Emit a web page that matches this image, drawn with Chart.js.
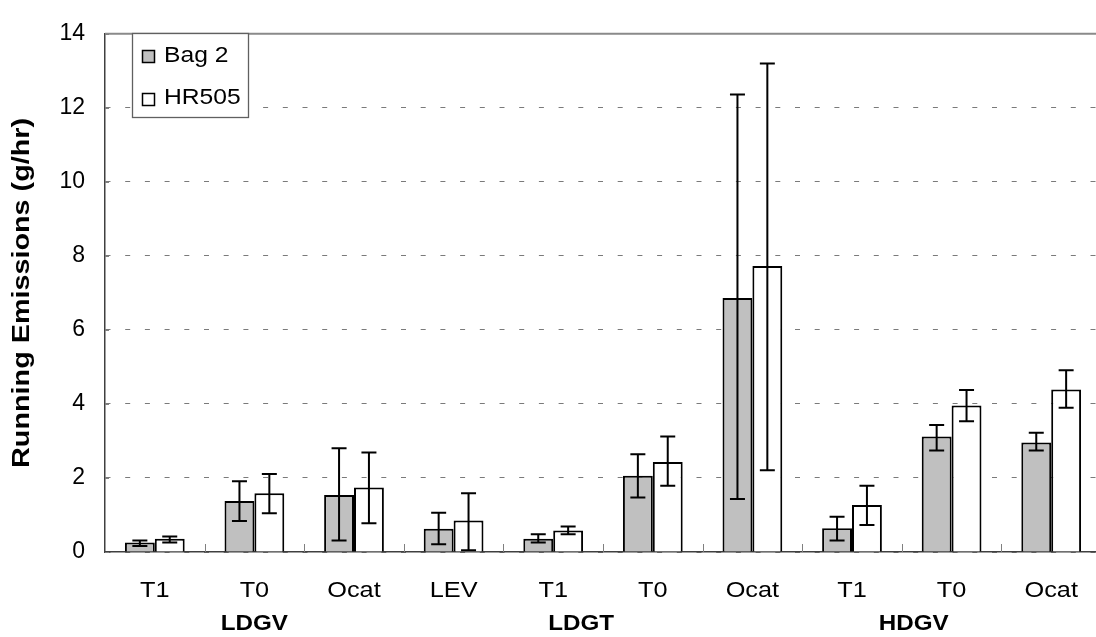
<!DOCTYPE html>
<html>
<head>
<meta charset="utf-8">
<script src="https://cdn.jsdelivr.net/npm/chart.js@4/dist/chart.umd.min.js"></script>
<style>
  html, body { margin: 0; padding: 0; background: #fff; overflow: hidden; }
  #wrap { width: 1101px; height: 637px; }
</style>
</head>
<body>
<div id="wrap"><canvas id="chart" width="1101" height="637"></canvas></div>
<script>
// values (g/hr)
const categories = ["T1", "T0", "Ocat", "LEV", "T1", "T0", "Ocat", "T1", "T0", "Ocat"];
const bag2 = [0.26, 1.38, 1.54, 0.63, 0.36, 2.06, 6.86, 0.64, 3.12, 2.96];
const bag2Low = [0.16, 0.84, 0.31, 0.21, 0.26, 1.47, 1.43, 0.31, 2.74, 2.74];
const bag2High = [0.31, 1.91, 2.80, 1.06, 0.48, 2.64, 12.36, 0.95, 3.43, 3.22];
const hr505 = [0.36, 1.59, 1.74, 0.85, 0.58, 2.43, 7.73, 1.27, 3.96, 4.39];
const hr505Low = [0.26, 1.05, 0.78, 0.05, 0.48, 1.79, 2.21, 0.73, 3.53, 3.90];
const hr505High = [0.42, 2.11, 2.69, 1.59, 0.69, 3.12, 13.20, 1.79, 4.38, 4.91];
// vehicle class labels under the category labels, placed at a category position
const groupLabels = ["LDGV", "LDGT", "HDGV"];
const groupAt = [1, 4.28, 7.62];
const yTitle = "Running Emissions (g/hr)";

const FONT = "'Liberation Sans', Arial, sans-serif";

// the original's text is a bit wider than plain Arial, so stretch it horizontally
function stretchedText(ctx, text, x, y, sx, align) {
    ctx.save();
    ctx.translate(x, y);
    ctx.scale(sx, 1);
    ctx.textAlign = align || "left";
    ctx.fillText(text, 0, 0);
    ctx.restore();
}

const errorBars = {
    id: "errorBars",
    afterDatasetsDraw(chart) {
        const ctx = chart.ctx;
        const y = chart.scales.y;
        const ranges = [[bag2Low, bag2High], [hr505Low, hr505High]];
        ctx.save();
        ctx.strokeStyle = "#000";
        ctx.lineWidth = 2;
        ranges.forEach(([lo, hi], d) => {
            chart.getDatasetMeta(d).data.forEach((bar, i) => {
                const yl = y.getPixelForValue(lo[i]);
                const yh = y.getPixelForValue(hi[i]);
                ctx.beginPath();
                ctx.moveTo(bar.x, yl); ctx.lineTo(bar.x, yh);
                ctx.moveTo(bar.x - 7.5, yl); ctx.lineTo(bar.x + 7.5, yl);
                ctx.moveTo(bar.x - 7.5, yh); ctx.lineTo(bar.x + 7.5, yh);
                ctx.stroke();
            });
        });
        ctx.restore();
    },
};

const decorations = {
    id: "decorations",
    afterDraw(chart) {
        const ctx = chart.ctx;
        const area = chart.chartArea;
        const x = chart.scales.x;
        const y = chart.scales.y;
        ctx.save();

        // plot area top edge
        ctx.strokeStyle = "#8a8a8a";
        ctx.lineWidth = 2;
        ctx.beginPath();
        ctx.moveTo(area.left, area.top); ctx.lineTo(area.right, area.top);
        ctx.stroke();

        // inside tick marks at category boundaries
        ctx.strokeStyle = "#808080";
        ctx.lineWidth = 1;
        for (let i = 1; i < categories.length; i++) {
            const bx = Math.round((x.getPixelForValue(i - 1) + x.getPixelForValue(i)) / 2) + 0.5;
            ctx.beginPath();
            ctx.moveTo(bx, area.bottom); ctx.lineTo(bx, area.bottom - 8);
            ctx.stroke();
        }
        // small inside ticks on the value axis
        y.ticks.forEach(t => {
            const ty = Math.round(y.getPixelForValue(t.value)) + 0.5;
            ctx.beginPath();
            ctx.moveTo(area.left, ty); ctx.lineTo(area.left + 4, ty);
            ctx.stroke();
        });

        ctx.fillStyle = "#000";
        ctx.textBaseline = "alphabetic";

        // category labels
        ctx.font = "22px " + FONT;
        categories.forEach((c, i) => {
            stretchedText(ctx, c, x.getPixelForValue(i), 597, 1.15, "center");
        });

        // group labels
        ctx.font = "bold 22px " + FONT;
        const step = x.getPixelForValue(1) - x.getPixelForValue(0);
        groupLabels.forEach((g, k) => {
            const gx = x.getPixelForValue(Math.floor(groupAt[k])) + (groupAt[k] % 1) * step;
            stretchedText(ctx, g, gx, 630, 1.1, "center");
        });

        // value axis title, rotated
        ctx.save();
        ctx.font = "bold 23px " + FONT;
        const w = ctx.measureText(yTitle).width;
        ctx.translate(23, (area.top + area.bottom) / 2);
        ctx.rotate(-Math.PI / 2);
        ctx.textBaseline = "middle";
        stretchedText(ctx, yTitle, 0, 0, 350 / w, "center");
        ctx.restore();

        // legend box
        ctx.fillStyle = "#fff";
        ctx.fillRect(132, 33, 116, 84);
        ctx.strokeStyle = "#606060";
        ctx.lineWidth = 1.3;
        ctx.strokeRect(132.5, 33.5, 116, 84);
        chart.data.datasets.forEach((ds, d) => {
            const top = 50 + d * 43;
            ctx.fillStyle = ds.backgroundColor;
            ctx.fillRect(142, top, 13, 13);
            ctx.strokeStyle = "#000";
            ctx.lineWidth = 1.5;
            ctx.strokeRect(142.5, top + 0.5, 12, 12);
            ctx.fillStyle = "#000";
            ctx.font = "22px " + FONT;
            ctx.textBaseline = "alphabetic";
            stretchedText(ctx, ds.label, 164, 62 + d * 42, 1.12, "left");
        });

        ctx.restore();
    },
};

new Chart(document.getElementById("chart"), {
    type: "bar",
    data: {
        labels: categories,
        datasets: [
            { label: "Bag 2", data: bag2, backgroundColor: "#c0c0c0", borderColor: "#000", borderWidth: 2 },
            { label: "HR505", data: hr505, backgroundColor: "#ffffff", borderColor: "#000", borderWidth: 2 },
        ],
    },
    options: {
        responsive: false,
        animation: false,
        devicePixelRatio: 1,
        layout: { padding: { top: 22, right: 0, left: 0, bottom: 0 } },
        datasets: { bar: { categoryPercentage: 0.6, barPercentage: 1.0 } },
        plugins: { legend: { display: false }, tooltip: { enabled: false } },
        scales: {
            x: {
                grid: { display: true, drawOnChartArea: false, drawTicks: false },
                border: { display: true, color: "#404040", width: 1.5 },
                ticks: { display: false },
                afterFit: (s) => { s.height = 85; },
            },
            y: {
                min: 0, max: 14,
                grid: { color: "#7a7a7a", lineWidth: 1, drawTicks: false },
                border: { display: true, color: "#404040", width: 1.5, dash: [5, 14.7] },
                ticks: {
                    stepSize: 2, color: "#000", font: { family: FONT, size: 23 }, padding: 20,
                },
                afterFit: (s) => { s.width = 105; },
            },
        },
    },
    plugins: [errorBars, decorations],
});
</script>
</body>
</html>
